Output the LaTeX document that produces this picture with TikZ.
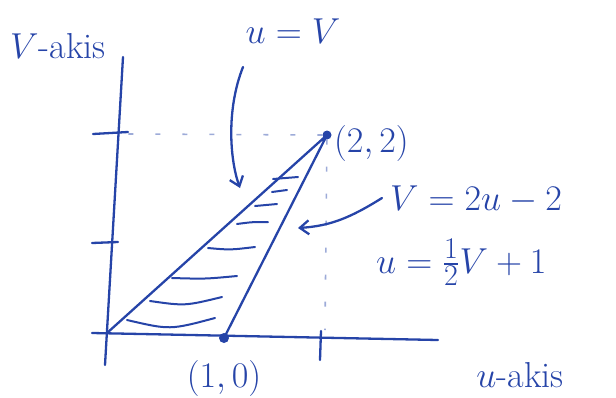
\documentclass[tikz,border=0pt]{standalone}
\usepackage{amsmath, amssymb}
\usepackage{tikz}
\usetikzlibrary{calc, arrows.meta, positioning}
\usepackage{xcolor}
\definecolor{ink}{RGB}{38,68,168}
\newcommand{\hand}[1]{\scalebox{1.45}{#1}}

\begin{document}
\begin{tikzpicture}[
    x=1pt, y=-1pt,
    font=\Huge,
    pen/.style={draw=ink, line width=2.3pt, line cap=round, line join=round},
    hatch/.style={draw=ink, line width=2pt, line cap=round},
    guide/.style={draw=ink!45, line width=1.6pt, dash pattern=on 5pt off 22pt},
    lbl/.style={text=ink, inner sep=0pt},
    arr/.style={pen, -{Straight Barb[length=9pt, width=14pt]}},
    pt/.style={circle, fill=ink, inner sep=0pt, minimum size=10pt}
  ]
    \useasboundingbox (0,0) rectangle (616,397);

    % axes and ticks
    \coordinate (O)   at (107,333);
    \coordinate (ytop) at (123,57);
    \coordinate (ybot) at (105,365);
    \coordinate (xl)  at (92,333);
    \coordinate (xr)  at (438,340);
    \draw[pen] (ybot) -- (ytop);
    \draw[pen] (xl) -- (xr);
    \draw[pen] (93,134) -- (128,132);
    \draw[pen] (92,243) -- (118,242);
    \draw[pen] (321,331) -- (320,360);

    % corners of the region
    \node[pt] (P) at (224,338) {};
    \node[pt, minimum size=9pt] (Q) at (327,135) {};
    \draw[guide] (Q) -- (125,134);
    \draw[guide] (Q) -- (325,330);
    \draw[pen] (O) -- (Q.center) -- (P.center);

    % shading strokes
    \draw[hatch] (273,179) -- (298,177);
    \draw[hatch] (272,192) -- (287,190);
    \draw[hatch] (255,206) -- (277,204);
    \draw[hatch] (237,224) .. controls (252,222) .. (268,222);
    \draw[hatch] (208,248) .. controls (230,250) .. (255,247);
    \draw[hatch] (172,278) .. controls (205,279) .. (237,276);
    \draw[hatch] (150,301) .. controls (185,306) .. (222,297);
    \draw[hatch] (127,320) .. controls (170,330) .. (215,318);

    % labels
    \node[lbl, anchor=base west] (vax) at (10,58) {\hand{$V$-akis}};
    \node[lbl, anchor=base] (uv) at (293,43) {\hand{$u=V$}};
    \node[lbl, anchor=base west] (q22) at (334,152) {\hand{$(2,2)$}};
    \node[lbl, anchor=base west] (eqv) at (390,210) {\hand{$V=2u-2$}};
    \node[lbl, anchor=base west] (equ) at (376,273) {\hand{$u=\tfrac{1}{2}V+1$}};
    \node[lbl, anchor=base] (p10) at (224,387) {\hand{$(1,0)$}};
    \node[lbl, anchor=base] (uax) at (520,387) {\hand{$u$-akis}};

    % pointers
    \coordinate (a1) at (243,67);
    \coordinate (a1e) at (240,188);
    \coordinate (a2) at (382,198);
    \coordinate (a2e) at (298,228);
    \draw[arr] (a1) .. controls (226,110) and (230,160) .. (a1e);
    \draw[arr] (a2) .. controls (350,218) and (330,226) .. (a2e);
  \end{tikzpicture}
\end{document}
